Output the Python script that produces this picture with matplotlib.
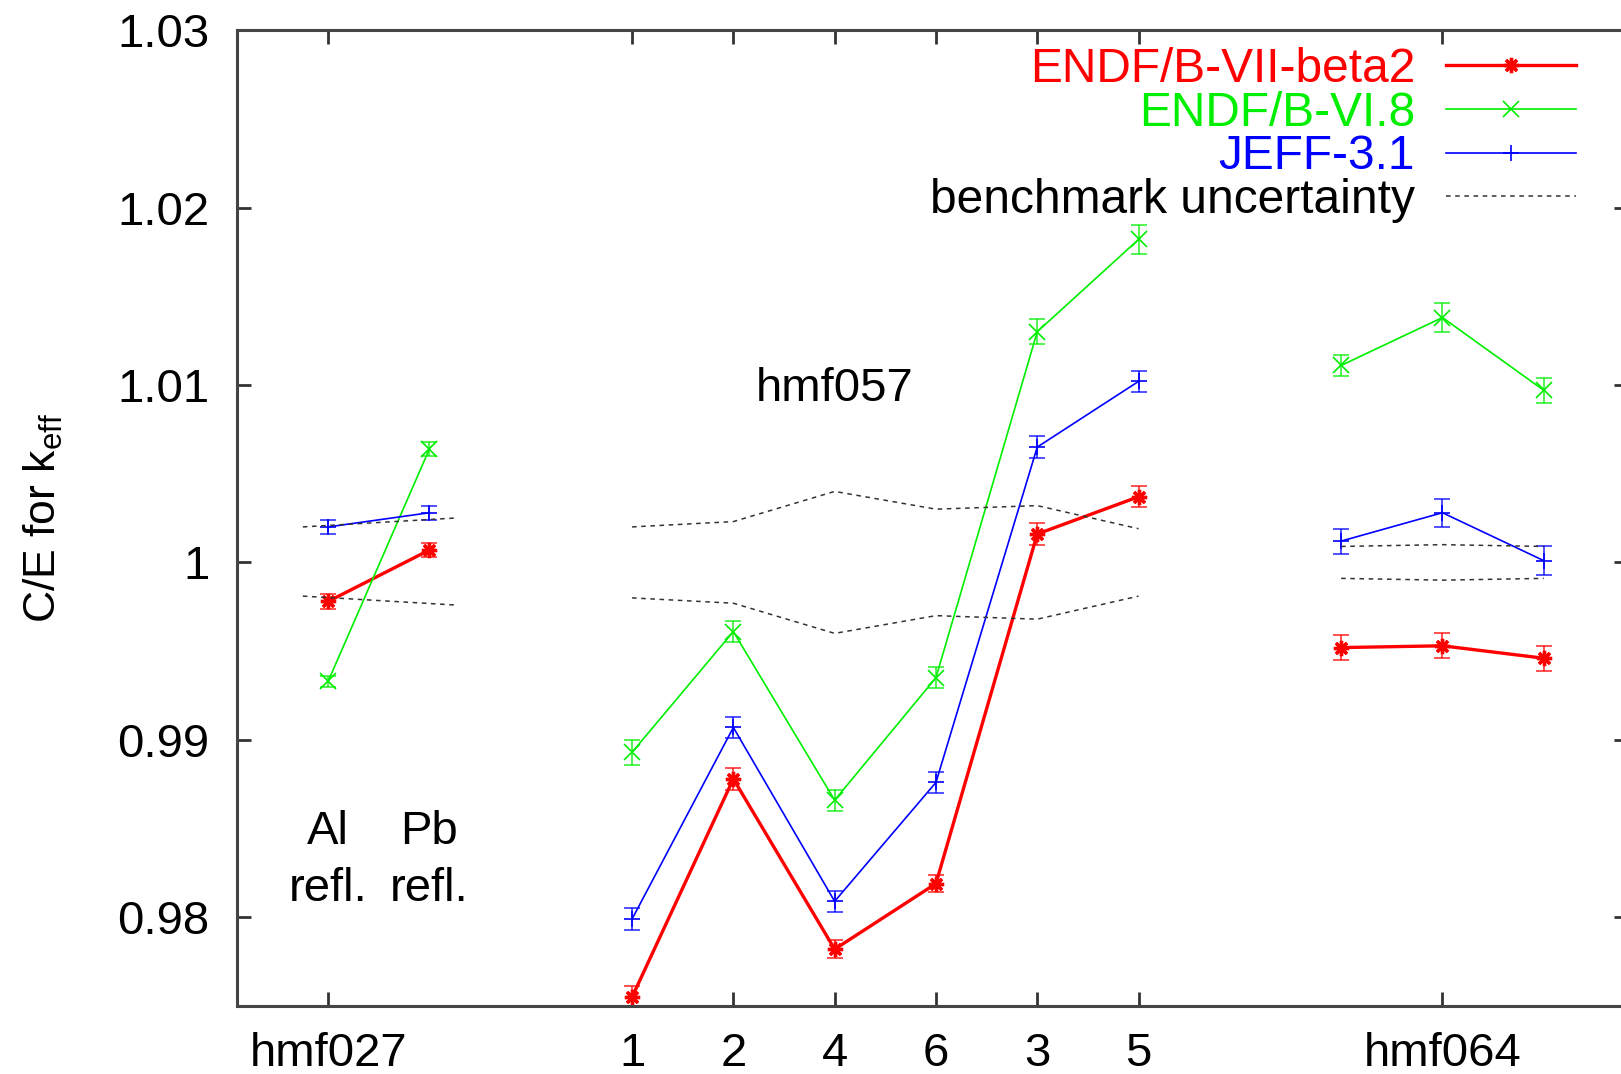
import numpy as np
import matplotlib
matplotlib.use('Agg')
import matplotlib.pyplot as plt
from matplotlib.ticker import FuncFormatter

plt.rcParams['font.family'] = ['Liberation Sans', 'DejaVu Sans']
plt.rcParams['mathtext.fontset'] = 'custom'
plt.rcParams['mathtext.rm'] = 'Liberation Sans'
plt.rcParams['mathtext.it'] = 'Liberation Sans'

# ---------------------------------------------------------------
# data
# ---------------------------------------------------------------
x027 = [1, 2]
x057 = [4, 5, 6, 7, 8, 9]
x064 = [11, 12, 13]

red027 = [0.9978, 1.0007]
red057 = [0.9755, 0.9878, 0.9782, 0.9819, 1.0016, 1.0037]
red064 = [0.9952, 0.9953, 0.9946]
red_err027 = [0.0004, 0.0004]
red_err057 = [0.0006, 0.0006, 0.0005, 0.0005, 0.0006, 0.0006]
red_err064 = [0.0007, 0.0007, 0.0007]

green027 = [0.9933, 1.0064]
green057 = [0.9893, 0.9961, 0.9866, 0.9935, 1.0130, 1.0182]
green064 = [1.0111, 1.0138, 1.0097]
green_err027 = [0.0003, 0.0004]
green_err057 = [0.0007, 0.0006, 0.0006, 0.0006, 0.0007, 0.0008]
green_err064 = [0.0006, 0.0008, 0.0007]

blue027 = [1.0020, 1.0028]
blue057 = [0.9799, 0.9907, 0.9809, 0.9876, 1.0065, 1.0102]
blue064 = [1.0012, 1.0028, 1.0001]
blue_err027 = [0.0004, 0.0004]
blue_err057 = [0.0006, 0.0006, 0.0006, 0.0006, 0.0006, 0.0006]
blue_err064 = [0.0007, 0.0008, 0.0008]

bench_x027 = [0.75, 2.25]
bench_up027 = [1.0020, 1.0025]
bench_lo027 = [0.9981, 0.9976]
bench_u057 = [0.0020, 0.0023, 0.0040, 0.0030, 0.0032, 0.0019]
bench_u064 = [0.0009, 0.0010, 0.0009]

tick_pos = [1, 4, 5, 6, 7, 8, 9, 12]
tick_labels = ['hmf027', '1', '2', '4', '6', '3', '5', 'hmf064']
y_ticks = [0.98, 0.99, 1.00, 1.01, 1.02, 1.03]

series = [
    ('ENDF/B-VII-beta2', '#ff0000', (8, 2, 0), 2.4,
     [(x027, red027, red_err027), (x057, red057, red_err057), (x064, red064, red_err064)]),
    ('ENDF/B-VI.8', '#00ee00', 'x', 1.2,
     [(x027, green027, green_err027), (x057, green057, green_err057), (x064, green064, green_err064)]),
    ('JEFF-3.1', '#0000ff', '+', 1.2,
     [(x027, blue027, blue_err027), (x057, blue057, blue_err057), (x064, blue064, blue_err064)]),
]

# ---------------------------------------------------------------
# figure
# ---------------------------------------------------------------
FS = 34
fig = plt.figure(figsize=(16.21, 10.74), dpi=100)
ax = fig.add_axes([0.1462, 0.0633, 0.858, 0.9087])

for label, color, marker, lw, groups in series:
    for i, (xs, ys, es) in enumerate(groups):
        ax.errorbar(xs, ys, yerr=es, fmt='none', ecolor=color, elinewidth=1.2,
                    capsize=6, capthick=1.2, alpha=0.8)
        ax.plot(xs, ys, color=color, lw=lw, marker=marker, ms=11, mew=lw,
                label=label if i == 0 else None)

# benchmark uncertainty
dash = dict(color='#333333', lw=1.1, ls=(0, (3, 3)))
ax.plot(bench_x027, bench_up027, **dash, label='benchmark uncertainty')
ax.plot(bench_x027, bench_lo027, **dash)
u057 = np.array(bench_u057)
u064 = np.array(bench_u064)
ax.plot(x057, 1 + u057, **dash)
ax.plot(x057, 1 - u057, **dash)
ax.plot(x064, 1 + u064, **dash)
ax.plot(x064, 1 - u064, **dash)

ax.text(6, 1.0098, 'hmf057', fontsize=FS, ha='center', va='center')
ax.text(1, 0.9832, 'Al\nrefl.', fontsize=FS, ha='center', va='center', linespacing=1.36)
ax.text(2, 0.9832, 'Pb\nrefl.', fontsize=FS, ha='center', va='center', linespacing=1.36)

ax.set_xlim(0.1, 13.83)
ax.set_ylim(0.975, 1.03)
ax.set_xticks(tick_pos)
ax.set_xticklabels(tick_labels)
ax.set_yticks(y_ticks)
ax.yaxis.set_major_formatter(FuncFormatter(lambda v, p: '%g' % round(v, 4)))
ax.tick_params(direction='in', length=10, width=2, top=True, right=True,
               labelsize=FS, colors='#333333', labelcolor='black')
ax.tick_params(axis='y', pad=20)
ax.tick_params(axis='x', pad=19)
for s in ax.spines.values():
    s.set_linewidth(2.2)
    s.set_color('#444444')

ax.set_ylabel('C/E for k$_{\\rm eff}$', fontsize=FS - 2)
ax.yaxis.set_label_coords(-0.124, 0.5)

leg = ax.legend(loc='upper right', bbox_to_anchor=(0.9626, 0.9824), frameon=False,
                markerfirst=False, fontsize=FS + 0.5, handlelength=2.7, handletextpad=0.65,
                labelspacing=-0.03, borderpad=0, borderaxespad=0)
for txt, c in zip(leg.get_texts(), ['#ff0000', '#00ee00', '#0000ff', 'black']):
    txt.set_color(c)

plt.savefig('out.png', dpi=100)
plt.close()
